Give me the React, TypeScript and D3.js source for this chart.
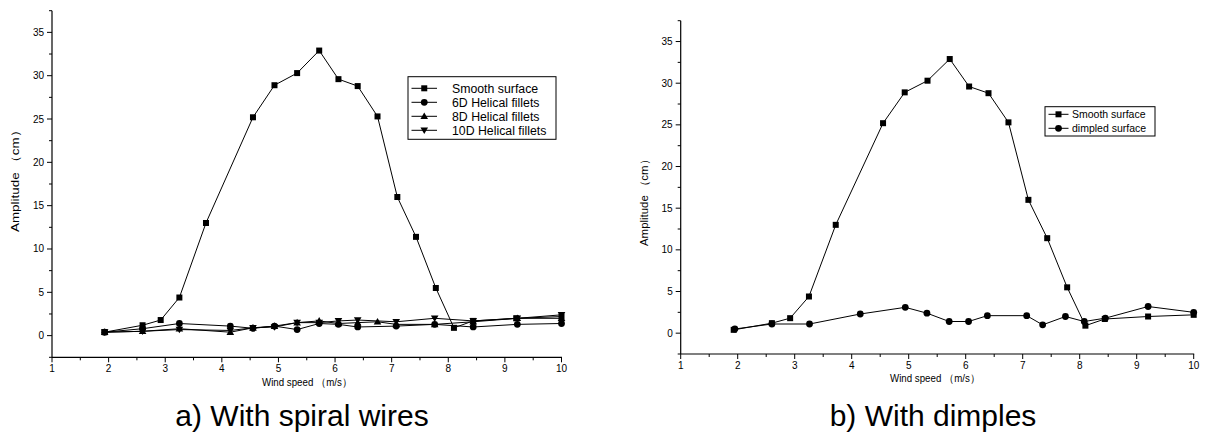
import React from "react";
import * as d3 from "d3";

const smoothX = [1.93, 2.6, 2.92, 3.25, 3.72, 4.55, 4.93, 5.33, 5.72, 6.06, 6.4, 6.75, 7.1, 7.43, 7.78, 8.1, 8.44, 9.2, 10];
const smoothY = [0.4, 1.2, 1.8, 4.4, 13.0, 25.2, 28.9, 30.3, 32.9, 29.6, 28.8, 25.3, 16.0, 11.4, 5.5, 0.9, 1.7, 2.0, 2.2];

const d6X = [1.93, 2.6, 3.25, 4.15, 4.55, 4.93, 5.33, 5.72, 6.06, 6.4, 7.08, 7.76, 8.44, 9.22, 10];
const d6Y = [0.4, 0.8, 1.4, 1.1, 0.85, 1.1, 0.7, 1.4, 1.3, 1.0, 1.1, 1.3, 1.0, 1.3, 1.4];

const d8X = [1.93, 2.6, 3.25, 4.15, 4.55, 4.93, 5.33, 5.72, 6.06, 6.4, 6.75, 7.08, 7.76, 8.44, 9.22, 10];
const d8Y = [0.4, 0.5, 0.8, 0.4, 0.9, 1.1, 1.5, 1.7, 1.4, 1.5, 1.6, 1.3, 1.3, 1.6, 2.0, 2.0];

const d10X = [1.93, 2.6, 3.25, 4.15, 4.55, 4.93, 5.33, 5.72, 6.06, 6.4, 7.08, 7.76, 8.44, 9.22, 10];
const d10Y = [0.4, 0.5, 0.7, 0.6, 0.9, 1.0, 1.5, 1.5, 1.7, 1.8, 1.6, 2.0, 1.7, 2.0, 2.4];

const dimpX = [1.95, 2.6, 3.26, 4.15, 4.94, 5.32, 5.71, 6.05, 6.38, 7.07, 7.35, 7.75, 8.08, 8.45, 9.2, 10];
const dimpY = [0.5, 1.1, 1.1, 2.3, 3.1, 2.4, 1.4, 1.4, 2.1, 2.1, 1.0, 2.0, 1.4, 1.8, 3.2, 2.5];

const xTicks = [1, 2, 3, 4, 5, 6, 7, 8, 9, 10];
const yTicks = [0, 5, 10, 15, 20, 25, 30, 35];

const leftNames = ["Smooth surface", "6D Helical fillets", "8D Helical fillets", "10D Helical fillets"];
const rightNames = ["Smooth surface", "dimpled surface"];
const captions = ["a) With spiral wires", "b) With dimples"];
const yLabel = "Amplitude （cm）";
const xLabel = "Wind speed （m/s）";

const FONT = "'Liberation Sans', Arial, sans-serif";

type Shape = "square" | "circle" | "up" | "down";

function Marker({ x, y, shape }: { x: number; y: number; shape: Shape }) {
  if (shape === "square") return <rect x={x - 3} y={y - 3} width={6} height={6} fill="#000" />;
  if (shape === "circle") return <circle cx={x} cy={y} r={3.4} fill="#000" />;
  if (shape === "up") return <path d={`M${x},${y - 3.8}L${x + 3.8},${y + 2.8}L${x - 3.8},${y + 2.8}Z`} fill="#000" />;
  return <path d={`M${x},${y + 3.8}L${x + 3.8},${y - 2.8}L${x - 3.8},${y - 2.8}Z`} fill="#000" />;
}

type Series = { xs: number[]; ys: number[]; shape: Shape; name: string };
type Legend = { x: number; y: number; w: number; h: number; rowH: number; pad: number; lineW: number; textX: number; fs: number };

function Panel(props: {
  x0: number; x1: number; yTop: number; yBot: number;
  series: Series[];
  legend: Legend;
  yLabelX: number; yLabelY: number; yLabelLen: number;
  xLabelX: number; xLabelY: number; xLabelLen: number;
  caption: string; captionX: number; captionY: number;
}) {
  const { x0, x1, yTop, yBot, series, legend } = props;
  const xs = d3.scaleLinear().domain([1, 10]).range([x0, x1]);
  const ys = d3.scaleLinear().domain([-2.5, 37.5]).range([yBot, yTop]);
  const line = d3.line<[number, number]>().x(d => xs(d[0])).y(d => ys(d[1]));
  const xMinor = d3.range(1.5, 10, 1);
  const yMinor = d3.range(-2.5, 37.6, 5);
  return (
    <g>
      <line x1={x0} x2={x0} y1={yTop} y2={yBot} stroke="#000" strokeWidth={1.2} />
      <line x1={x0} x2={x1 + 0.5} y1={yBot} y2={yBot} stroke="#000" strokeWidth={1.2} />
      {yTicks.map(t => (
        <g key={"y" + t}>
          <line x1={x0 - 5} x2={x0} y1={ys(t)} y2={ys(t)} stroke="#000" />
          <text x={x0 - 8} y={ys(t) + 3.5} fontSize={10} textAnchor="end" fontFamily={FONT}>{t}</text>
        </g>
      ))}
      {yMinor.map(t => (
        <line key={"ym" + t} x1={x0 - 3} x2={x0} y1={ys(t)} y2={ys(t)} stroke="#000" />
      ))}
      {xTicks.map(t => (
        <g key={"x" + t}>
          <line x1={xs(t)} x2={xs(t)} y1={yBot} y2={yBot + 5} stroke="#000" />
          <text x={xs(t)} y={yBot + 15} fontSize={10} textAnchor="middle" fontFamily={FONT}>{t}</text>
        </g>
      ))}
      {xMinor.map(t => (
        <line key={"xm" + t} x1={xs(t)} x2={xs(t)} y1={yBot} y2={yBot + 3} stroke="#000" />
      ))}
      <text transform={`translate(${props.yLabelX},${props.yLabelY}) rotate(-90)`} fontSize={11}
        textAnchor="middle" fontFamily={FONT} textLength={props.yLabelLen} lengthAdjust="spacingAndGlyphs">{yLabel}</text>
      <text x={props.xLabelX} y={props.xLabelY} fontSize={10.5} textAnchor="middle" fontFamily={FONT}
        textLength={props.xLabelLen} lengthAdjust="spacingAndGlyphs">{xLabel}</text>
      {series.map((s, i) => {
        const pts = s.xs.map((v, j) => [v, s.ys[j]] as [number, number]);
        return (
          <g key={"s" + i}>
            <path d={line(pts) || ""} fill="none" stroke="#000" strokeWidth={1} />
            {pts.map((p, j) => <Marker key={j} x={xs(p[0])} y={ys(p[1])} shape={s.shape} />)}
          </g>
        );
      })}
      <rect x={legend.x} y={legend.y} width={legend.w} height={legend.h}
        fill="#fff" stroke="#000" strokeWidth={1} />
      {series.map((s, i) => {
        const ry = legend.y + legend.pad + legend.rowH * (i + 0.5);
        return (
          <g key={"l" + i}>
            <line x1={legend.x + 3.5} x2={legend.x + 3.5 + legend.lineW} y1={ry} y2={ry} stroke="#000" />
            <Marker x={legend.x + 3.5 + legend.lineW / 2} y={ry} shape={s.shape} />
            <text x={legend.x + legend.textX} y={ry + legend.fs * 0.36} fontSize={legend.fs} fontFamily={FONT}>{s.name}</text>
          </g>
        );
      })}
      <text x={props.captionX} y={props.captionY} fontSize={30} textAnchor="middle" fontFamily={FONT}>{props.caption}</text>
    </g>
  );
}

export default function App() {
  const leftSeries: Series[] = [
    { xs: smoothX, ys: smoothY, shape: "square", name: leftNames[0] },
    { xs: d6X, ys: d6Y, shape: "circle", name: leftNames[1] },
    { xs: d8X, ys: d8Y, shape: "up", name: leftNames[2] },
    { xs: d10X, ys: d10Y, shape: "down", name: leftNames[3] },
  ];
  const rightSeries: Series[] = [
    { xs: smoothX, ys: smoothY, shape: "square", name: rightNames[0] },
    { xs: dimpX, ys: dimpY, shape: "circle", name: rightNames[1] },
  ];
  return (
    <svg width={1220} height={438} style={{ position: "absolute", left: 0, top: 0, background: "#fff" }}>
      <Panel x0={52} x1={561.5} yTop={10.7} yBot={357.3} series={leftSeries}
        legend={{ x: 408, y: 76.7, w: 148, h: 62.6, rowH: 14, pad: 4.6, lineW: 25.5, textX: 44, fs: 12.3 }}
        yLabelX={19} yLabelY={178} yLabelLen={108}
        xLabelX={307} xLabelY={386} xLabelLen={90}
        caption={captions[0]} captionX={302} captionY={426} />
      <Panel x0={680.7} x1={1193.7} yTop={20.7} yBot={354} series={rightSeries}
        legend={{ x: 1045, y: 106.7, w: 110, h: 29.3, rowH: 14, pad: 0.6, lineW: 20, textX: 27, fs: 10.5 }}
        yLabelX={648} yLabelY={200} yLabelLen={92}
        xLabelX={935} xLabelY={382} xLabelLen={90}
        caption={captions[1]} captionX={933} captionY={426} />
    </svg>
  );
}
